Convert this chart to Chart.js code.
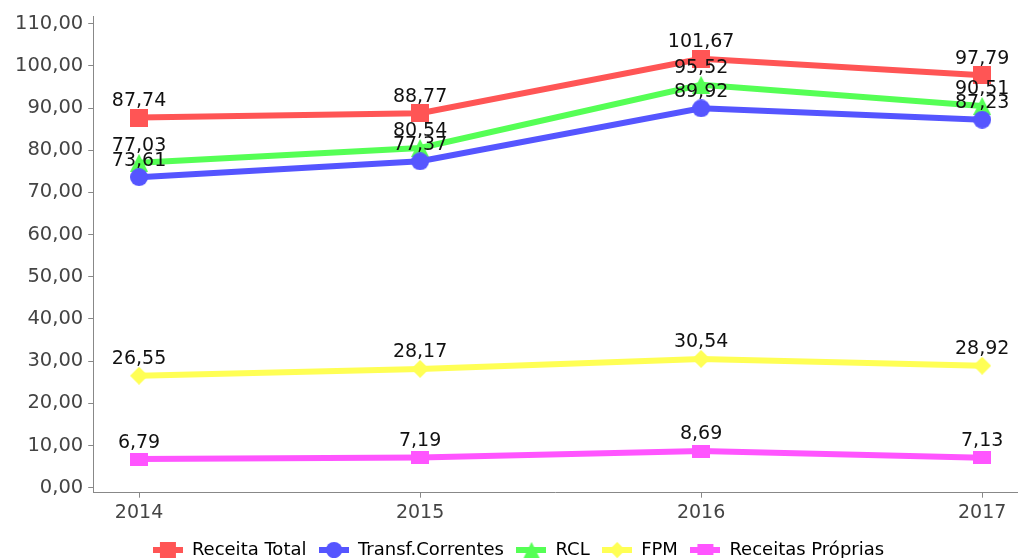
<!DOCTYPE html>
<html>
<head>
  <meta charset="utf-8">
  <title>Receitas</title>
  <style>
    body { margin: 0; background: #fff; }
    .wrap { width: 1027px; height: 558px; }
  </style>
</head>
<body>
  <div class="wrap"><canvas id="chart"></canvas></div>

  <script src="https://cdn.jsdelivr.net/npm/chart.js"></script>
  <script>
    // data
    const years = [2014, 2015, 2016, 2017];
    const receitaTotal = [87.74, 88.77, 101.67, 97.79];
    const transfCorrentes = [73.61, 77.37, 89.92, 87.23];
    const rcl = [77.03, 80.54, 95.52, 90.51];
    const fpm = [26.55, 28.17, 30.54, 28.92];
    const receitasProprias = [6.79, 7.19, 8.69, 7.13];
    const yTicks = [0, 10, 20, 30, 40, 50, 60, 70, 80, 90, 100, 110];

    const fmt = v => v.toFixed(2).replace('.', ',');

    // marker shapes drawn on small canvases
    function marker(shape, color, w, h) {
      const c = document.createElement('canvas');
      c.width = w; c.height = h;
      const g = c.getContext('2d');
      g.fillStyle = color;
      const cx = w / 2, cy = h / 2;
      g.beginPath();
      if (shape === 'square') g.rect(0, 0, w, h);
      else if (shape === 'circle') g.arc(cx, cy, w / 2, 0, Math.PI * 2);
      else if (shape === 'triangle') { g.moveTo(cx, 0); g.lineTo(w, h); g.lineTo(0, h); }
      else if (shape === 'diamond') { g.moveTo(cx, 0); g.lineTo(w, cy); g.lineTo(cx, h); g.lineTo(0, cy); }
      g.closePath();
      g.fill();
      return c;
    }

    function legendIcon(shape, color, w, h) {
      const c = document.createElement('canvas');
      c.width = 30; c.height = 18;
      const g = c.getContext('2d');
      g.fillStyle = color;
      g.fillRect(0, 6, 30, 6);
      g.drawImage(marker(shape, color, w, h), 15 - w / 2, 9 - h / 2);
      return c;
    }

    const series = [
      { label: 'Receita Total', data: receitaTotal, color: '#ff5555', shape: 'square', w: 18, h: 18 },
      { label: 'Transf.Correntes', data: transfCorrentes, color: '#5555ff', shape: 'circle', w: 18, h: 18 },
      { label: 'RCL', data: rcl, color: '#55ff55', shape: 'triangle', w: 18, h: 18 },
      { label: 'FPM', data: fpm, color: '#ffff55', shape: 'diamond', w: 18, h: 18 },
      { label: 'Receitas Próprias', data: receitasProprias, color: '#ff55ff', shape: 'square', w: 18, h: 13 }
    ];

    const valueLabels = {
      id: 'valueLabels',
      afterDatasetsDraw(chart) {
        const ctx = chart.ctx;
        ctx.save();
        ctx.font = '19px "DejaVu Sans"';
        ctx.fillStyle = '#111';
        ctx.textAlign = 'center';
        ctx.textBaseline = 'bottom';
        chart.data.datasets.forEach((ds, i) => {
          chart.getDatasetMeta(i).data.forEach((pt, j) => {
            ctx.fillText(fmt(ds.data[j].y), pt.x, pt.y - 7);
          });
        });
        ctx.restore();
      }
    };

    new Chart(document.getElementById('chart'), {
      type: 'line',
      data: {
        datasets: series.map(s => ({
          label: s.label,
          data: years.map((yr, i) => ({ x: yr, y: s.data[i] })),
          borderColor: s.color,
          backgroundColor: s.color,
          borderWidth: 6,
          pointStyle: marker(s.shape, s.color, s.w, s.h),
          legendIcon: legendIcon(s.shape, s.color, s.w * 0.9, s.h * 0.9),
          tension: 0,
          fill: false
        }))
      },
      options: {
        responsive: true,
        maintainAspectRatio: false,
        animation: false,
        layout: { padding: { left: 10, right: 0, top: 12, bottom: -11 } },
        plugins: {
          tooltip: { enabled: false },
          legend: {
            position: 'bottom',
            labels: {
              usePointStyle: true,
              pointStyleWidth: 30,
              font: { family: 'DejaVu Sans', size: 18 },
              color: '#111',
              padding: 12.5,
              boxHeight: 18,
              generateLabels(chart) {
                return chart.data.datasets.map((ds, i) => ({
                  text: ds.label,
                  pointStyle: ds.legendIcon,
                  fillStyle: ds.borderColor,
                  strokeStyle: ds.borderColor,
                  lineWidth: 0,
                  hidden: false,
                  datasetIndex: i
                }));
              }
            }
          }
        },
        scales: {
          x: {
            type: 'linear',
            min: 2013.837,
            max: 2017.124,
            afterBuildTicks(axis) { axis.ticks = years.map(v => ({ value: v })); },
            ticks: {
              callback: v => String(v),
              font: { family: 'DejaVu Sans', size: 19 },
              color: '#444',
              padding: 4
            },
            grid: { drawOnChartArea: false, tickLength: 5, color: '#888' },
            border: { color: '#888', width: 1 }
          },
          y: {
            min: -1.18,
            max: 111.65,
            afterBuildTicks(axis) { axis.ticks = yTicks.map(v => ({ value: v })); },
            ticks: {
              callback: v => fmt(v),
              font: { family: 'DejaVu Sans', size: 19.5 },
              color: '#444',
              padding: 5
            },
            grid: { drawOnChartArea: false, tickLength: 5, color: '#888' },
            border: { color: '#888', width: 1 }
          }
        }
      },
      plugins: [valueLabels]
    });
  </script>
</body>
</html>
